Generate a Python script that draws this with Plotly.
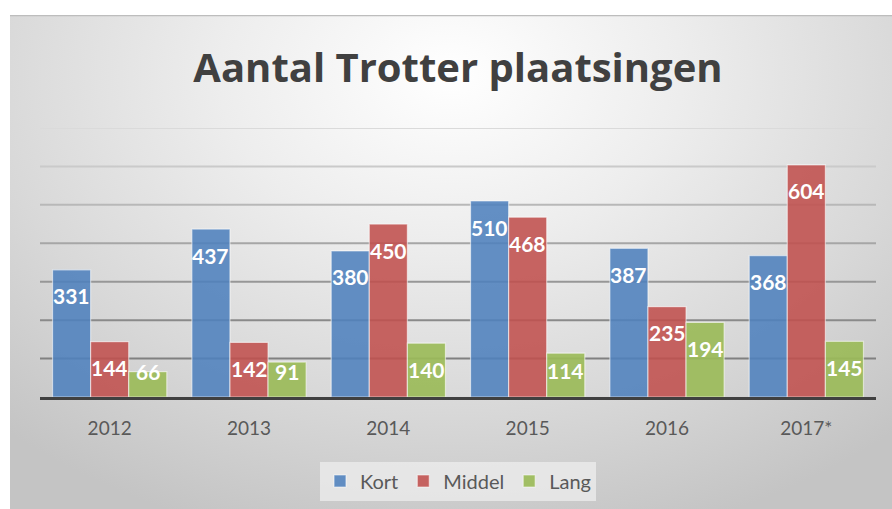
import base64
import plotly.graph_objects as go

years = ["2012", "2013", "2014", "2015", "2016", "2017*"]
kort = [331, 437, 380, 510, 387, 368]
middel = [144, 142, 450, 468, 235, 604]
lang = [66, 91, 140, 114, 194, 145]

series = [("Kort", kort, "rgba(79,129,189,0.88)"),
          ("Middel", middel, "rgba(192,80,77,0.88)"),
          ("Lang", lang, "rgba(155,187,89,0.92)")]

# gridline levels (value axis, step 100) and their shade (lighter towards the top)
grid_values = [100, 200, 300, 400, 500, 600, 700]
grid_colors = ["#808080", "#8a8a8a", "#979797", "#a6a6a6", "#b8b8b8", "#cacaca", "#dadada"]

W, H = 892, 509
L, R, T, B = 40, 16, 128, 112
YMAX = 700
BARGAP = 0.18
pw, ph = W - L - R, H - T - B

fig = go.Figure()
for name, vals, col in series:
    fig.add_trace(go.Bar(
        name=name, x=years, y=vals,
        marker=dict(color=col, line=dict(color="rgba(255,255,255,0.55)", width=1.2)),
    ))

# data labels (inside end, Excel-like: clamped within the bar)
barw = pw / len(years) * (1 - BARGAP) / len(series)
for i, (name, vals, col) in enumerate(series):
    for j, v in enumerate(vals):
        hpx = v * ph / YMAX
        shift = -min(26, hpx - 26)
        fig.add_annotation(x=j, y=v, text=f"<b>{v}</b>", showarrow=False,
                           xshift=(i - 1) * barw, yshift=shift,
                           xanchor="center", yanchor="middle",
                           font=dict(family="Lato", size=21, color="white"))

for gv, gc in zip(grid_values, grid_colors):
    fig.add_shape(type="line", xref="paper", x0=0, x1=1, yref="y", y0=gv, y1=gv,
                  line=dict(color=gc, width=2), layer="below")

# background gradient frame as svg image
svg = '''<svg xmlns="http://www.w3.org/2000/svg" width="882" height="494" viewBox="0 0 882 494" preserveAspectRatio="none">
<defs><radialGradient id="g" cx="0.5" cy="0.12" r="0.75" gradientTransform="translate(0.5 0.12) scale(1 1.3) translate(-0.5 -0.12)">
<stop offset="0" stop-color="#ffffff"/>
<stop offset="0.35" stop-color="#ededed"/>
<stop offset="0.7" stop-color="#d8d8d8"/>
<stop offset="1" stop-color="#c4c4c4"/>
</radialGradient></defs>
<rect x="0" y="0" width="882" height="494" fill="url(#g)"/>
<line x1="0" y1="0.5" x2="882" y2="0.5" stroke="#bdbdbd" stroke-width="1.5"/>
</svg>'''
src = "data:image/svg+xml;base64," + base64.b64encode(svg.encode()).decode()
fx0, fy0 = 10, 15
fig.add_layout_image(dict(
    source=src, xref="paper", yref="paper",
    x=(fx0 - L) / pw, y=(H - B - fy0) / ph,
    sizex=(W - fx0) / pw, sizey=(H - fy0) / ph,
    xanchor="left", yanchor="top", sizing="stretch", layer="below"))

fig.update_layout(
    width=W, height=H,
    margin=dict(l=L, r=R, t=T, b=B, autoexpand=False),
    paper_bgcolor="white", plot_bgcolor="rgba(0,0,0,0)",
    barmode="group", bargap=BARGAP, bargroupgap=0.0,
    title=dict(text="<b>Aantal Trotter plaatsingen</b>", x=0.5, xref="paper",
               y=1 - 68 / H, yanchor="middle", xanchor="center",
               font=dict(family="Open Sans", size=40, color="#404040")),
    font=dict(family="Lato", color="#595959"),
    showlegend=True,
    legend=dict(orientation="h", x=0.5, xanchor="center", yref="container",
                y=1 - 481 / H, yanchor="middle", bgcolor="rgba(238,238,238,0.75)",
                font=dict(size=20, color="#595959"), itemwidth=30,
                traceorder="normal"),
    xaxis=dict(type="category", range=[-0.5, len(years) - 0.5], showgrid=False,
               showline=True, linecolor="#404040",
               linewidth=3, ticks="", tickfont=dict(size=19, color="#595959"),
               ticklabelstandoff=12),
    yaxis=dict(range=[0, YMAX], dtick=100, showticklabels=False,
               showgrid=False, zeroline=False, showline=False),
)
fig.write_html("out.html", config={"displayModeBar": False},
               post_script="document.body.style.margin='0';document.body.style.padding='0';")
